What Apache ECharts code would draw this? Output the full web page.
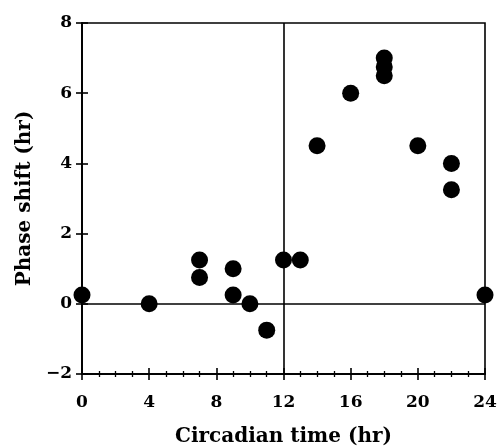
<!DOCTYPE html>
<html>
<head>
<meta charset="utf-8">
<script src="https://cdn.jsdelivr.net/npm/echarts@6/dist/echarts.min.js"></script>
<style>html,body{margin:0;padding:0;background:#fff}#c{width:500px;height:448px}</style>
</head>
<body>
<div id="c"></div>
<script>
const circadianTime = [0, 4, 7, 7, 9, 9, 10, 11, 12, 13, 14, 16, 18, 18, 18, 20, 22, 22, 24];
const phaseShift   = [0.25, 0, 1.25, 0.75, 1.0, 0.25, 0, -0.75, 1.25, 1.25, 4.5, 6, 7, 6.75, 6.5, 4.5, 4.0, 3.25, 0.25];
const xTicks = [0, 4, 8, 12, 16, 20, 24];
const yTicks = [-2, 0, 2, 4, 6, 8];
const xTitle = 'Circadian time (hr)';
const yTitle = 'Phase shift (hr)';

const FONT = 'DejaVu Serif';
const points = circadianTime.map((x, i) => [x, phaseShift[i]]);
const lbl = v => String(v).replace('-', '\u2212');

const chart = echarts.init(document.getElementById('c'), null, {renderer: 'canvas'});
const baseX = {
  type: 'value', min: 0, max: 24, interval: 4,
  axisLine: {show: true, onZero: false, lineStyle: {color: '#000', width: 1.6}},
  splitLine: {show: false},
  minorTick: {show: true, splitNumber: 4, length: 3, lineStyle: {color: '#000', width: 1.3}},
  axisTick: {show: true, length: 6, lineStyle: {color: '#000', width: 1.6}}
};
const baseY = {
  type: 'value', min: -2, max: 8, interval: 2,
  axisLine: {show: true, onZero: false, lineStyle: {color: '#000', width: 1.6}},
  splitLine: {show: false},
  axisTick: {show: true, length: 6, lineStyle: {color: '#000', width: 1.6}}
};
chart.setOption({
  animation: false,
  backgroundColor: '#fff',
  grid: {left: 82, right: 15, top: 23, bottom: 74, containLabel: false, outerBoundsMode: 'none',
         show: true, borderColor: '#000', borderWidth: 1.6, backgroundColor: 'transparent'},
  xAxis: [
    Object.assign({}, baseX, {
      position: 'bottom',
      axisLabel: {show: true, margin: 20, color: '#000', fontFamily: FONT, fontWeight: 'bold', fontSize: 17,
        formatter: v => xTicks.includes(v) ? lbl(v) : ''},
      name: xTitle, nameLocation: 'middle', nameGap: 53,
      nameTextStyle: {color: '#000', fontFamily: FONT, fontWeight: 'bold', fontSize: 20}
    }),
    Object.assign({}, baseX, {
      position: 'bottom',
      axisLabel: {show: false},
      axisTick: Object.assign({}, baseX.axisTick, {inside: true}),
      minorTick: Object.assign({}, baseX.minorTick)
    })
  ],
  yAxis: [
    Object.assign({}, baseY, {
      position: 'left',
      axisLabel: {show: true, margin: 10, color: '#000', fontFamily: FONT, fontWeight: 'bold', fontSize: 17,
        formatter: v => yTicks.includes(v) ? lbl(v) : ''},
      name: yTitle, nameLocation: 'middle', nameGap: 46,
      nameTextStyle: {color: '#000', fontFamily: FONT, fontWeight: 'bold', fontSize: 20}
    }),
    Object.assign({}, baseY, {
      position: 'left',
      axisLabel: {show: false},
      axisTick: Object.assign({}, baseY.axisTick, {inside: true})
    })
  ],
  series: [{
    type: 'scatter',
    xAxisIndex: 0, yAxisIndex: 0,
    data: points,
    symbol: 'circle', symbolSize: 17,
    itemStyle: {color: '#000', opacity: 1},
    markLine: {
      silent: true, symbol: 'none', label: {show: false},
      lineStyle: {color: '#000', width: 1.6, type: 'solid'},
      data: [{xAxis: 12}, {yAxis: 0}]
    },
    z: 5
  }]
});
</script>
</body>
</html>
